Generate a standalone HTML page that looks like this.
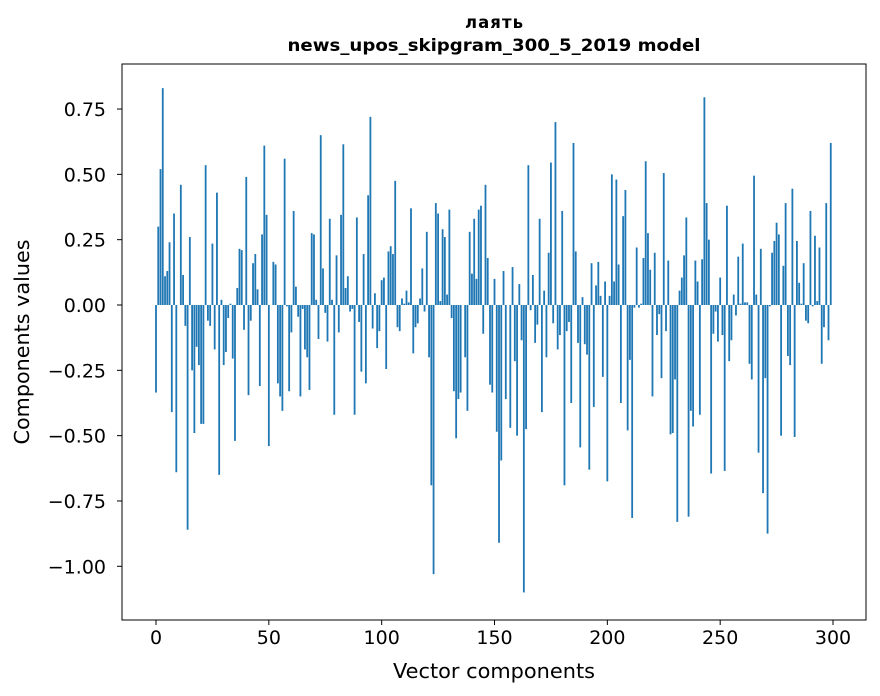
<!DOCTYPE html>
<html><head><meta charset="utf-8"><style>
body{margin:0;background:#fff;}
svg{display:block;font-family:"DejaVu Sans","Liberation Sans",sans-serif;}
</style></head><body>
<svg id="chart" width="880" height="696">
<rect x="0" y="0" width="880" height="696" fill="#fff"/>
<text x="494" y="28" text-anchor="middle" font-size="16.5" font-weight="bold" textLength="58">лаять</text>
<text x="494" y="51" text-anchor="middle" font-size="16.5" font-weight="bold" textLength="413" lengthAdjust="spacingAndGlyphs">news_upos_skipgram_300_5_2019 model</text>
<g id="bars"></g>
<g id="xticks"></g>
<g id="yticks"></g>
<rect x="122" y="64" width="744" height="556" fill="none" stroke="#000" stroke-width="1"/>
<text x="494" y="678" text-anchor="middle" font-size="20.5" textLength="202" lengthAdjust="spacingAndGlyphs">Vector components</text>
<text transform="translate(29,342) rotate(-90)" text-anchor="middle" font-size="20.5" textLength="205" lengthAdjust="spacingAndGlyphs">Components values</text>
</svg>
<script>
const values = [
-0.335,0.30,0.52,0.83,0.11,0.13,0.24,-0.41,0.35,-0.64,
0,0.46,0.115,-0.08,-0.86,0.26,-0.25,-0.49,-0.16,-0.23,
-0.455,-0.455,0.535,-0.06,-0.08,0.235,-0.17,0.43,-0.65,0.02,
-0.23,-0.18,-0.05,0.005,-0.205,-0.52,0.065,0.215,0.21,-0.095,
0.49,-0.345,-0.06,0.16,0.195,0.06,-0.31,0.27,0.61,0.345,
-0.54,0,0.165,0.155,-0.30,-0.35,-0.405,0.56,-0.005,-0.33,
-0.105,0.36,0.07,-0.045,-0.35,-0.015,-0.17,-0.20,-0.325,0.275,
0.27,0.02,-0.13,0.65,0.14,-0.03,-0.14,0.33,0.02,-0.42,
0.19,-0.105,0.345,0.615,0.065,0.11,-0.025,-0.015,-0.42,0.335,
-0.065,-0.255,0.195,-0.30,0.42,0.72,-0.09,0.045,-0.165,-0.10,
0.095,0.105,-0.245,0.205,0.225,0.195,0.475,-0.085,-0.10,0.025,
0.005,0.055,0.01,0.37,-0.185,-0.085,-0.07,0.025,0.14,-0.025,
0.28,-0.20,-0.69,-1.03,0.39,0.35,0.015,0.29,0.26,0.04,
0.365,-0.05,-0.33,-0.51,-0.36,-0.335,0,-0.20,-0.405,0.28,
0.12,0.33,0.10,0.365,0.38,-0.11,0.46,0.18,-0.305,-0.335,
0.10,-0.485,-0.91,-0.595,0.13,-0.36,0,-0.47,0.145,-0.215,
-0.50,0.08,-0.135,-1.10,-0.475,0.535,-0.02,0.115,-0.145,-0.075,
0.33,-0.41,0.055,-0.20,0.20,0.545,-0.07,0.70,-0.17,-0.115,
0.36,-0.69,-0.10,-0.065,-0.375,0.62,0.205,-0.145,-0.545,0.03,
-0.15,-0.19,-0.63,0.16,-0.39,0.075,0.165,0.035,-0.275,0.09,
-0.675,0.035,0.50,0.09,0.48,0.155,-0.375,0.34,0.44,-0.48,
-0.21,-0.815,-0.01,0.22,-0.01,0.005,0.18,0.55,0.275,0.135,
-0.35,0.20,-0.115,-0.035,-0.28,0.505,-0.10,0.17,-0.495,-0.49,
-0.285,-0.83,0.055,0.105,0.19,0.335,-0.81,-0.405,-0.465,0.17,
0.09,-0.42,0.175,0.795,0.39,0.25,-0.645,-0.11,-0.025,-0.14,
0.105,-0.115,-0.635,0.38,-0.215,-0.135,0.04,-0.04,0.185,0.005,
0.235,0.01,0.01,-0.225,-0.285,0.495,0.04,-0.565,0.215,-0.72,
-0.28,-0.875,-0.005,0.20,0.245,0.315,0.27,-0.50,0.15,0.39,
-0.195,-0.23,0.445,-0.505,0.245,0.085,0.005,0.16,-0.06,-0.07,
0.36,-0.005,0.265,0.015,0.22,-0.225,-0.085,0.39,-0.135,0.62
];
const xTickValues = [0,50,100,150,200,250,300];
const yTickValues = [0.75,0.5,0.25,0,-0.25,-0.5,-0.75,-1.0];
const yTickLabels = ["0.75","0.50","0.25","0.00","\u22120.25","\u22120.50","\u22120.75","\u22121.00"];

const NS="http://www.w3.org/2000/svg";
const x = v => 156 + v*2.2567;
const y = v => 305 - v*261.3;
const bw = 0.8*2.2567;
const gB=document.getElementById('bars');
values.forEach((v,i)=>{
  const r=document.createElementNS(NS,'rect');
  r.setAttribute('x',x(i)-bw/2);
  r.setAttribute('y',Math.min(y(v),y(0)));
  r.setAttribute('width',bw);
  r.setAttribute('height',Math.abs(y(v)-y(0)));
  r.setAttribute('fill','#1f77b4');
  
  
  gB.appendChild(r);
});
const gX=document.getElementById('xticks');
xTickValues.forEach(t=>{
  const l=document.createElementNS(NS,'line');
  l.setAttribute('x1',x(t));l.setAttribute('x2',x(t));
  l.setAttribute('y1',620);l.setAttribute('y2',625);
  l.setAttribute('stroke','#000');
  
  
  gX.appendChild(l);
  const tx=document.createElementNS(NS,'text');
  tx.setAttribute('x',x(t));tx.setAttribute('y',644);
  tx.setAttribute('text-anchor','middle');tx.setAttribute('font-size','19');
  tx.textContent=String(t);
  
  
  gX.appendChild(tx);
});
const gY=document.getElementById('yticks');
yTickValues.forEach((t,i)=>{
  const l=document.createElementNS(NS,'line');
  l.setAttribute('x1',117);l.setAttribute('x2',122);
  l.setAttribute('y1',y(t));l.setAttribute('y2',y(t));
  l.setAttribute('stroke','#000');
  
  
  gY.appendChild(l);
  const tx=document.createElementNS(NS,'text');
  tx.setAttribute('x',106);tx.setAttribute('y',y(t)+7);
  tx.setAttribute('text-anchor','end');tx.setAttribute('font-size','19');
  tx.textContent=yTickLabels[i];
  
  
  gY.appendChild(tx);
});
</script>
</body></html>
